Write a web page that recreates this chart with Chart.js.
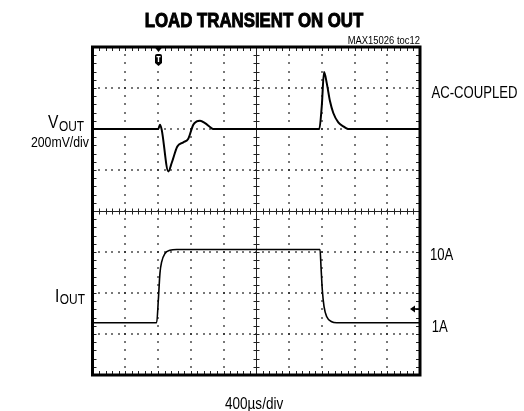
<!DOCTYPE html>
<html><head><meta charset="utf-8">
<style>html,body{margin:0;padding:0;background:#fff;}#wrap{width:524px;height:411px;position:relative;}</style>
<script src="https://cdn.jsdelivr.net/npm/chart.js@4/dist/chart.umd.min.js"></script>
</head><body><div id="wrap"><canvas id="c" width="524" height="411"></canvas></div>
<script>
// ---- data (read from the scope shot) ----
const voutTime = [0, 804, 824, 845, 926, 967, 1036, 1109, 1170, 1231, 1273, 1313, 1374, 1435, 1475, 2770, 2800, 2828, 2861, 2901, 2941, 3002, 3063, 3124, 4000];
const voutMv   = [0,   0,  21,  -3, -207, -166, -85, -65, -47,  21,  37,  40,  29,  10,   0,    0,  110,  278,  224,  135,   78,   32,   13,    0,    0];
const ioutTime = [0, 784, 804, 824, 845, 885, 947, 1028, 2779, 2791, 2807, 2828, 2861, 2922, 2983, 4000];
const ioutAmp  = [1.0, 1.0, 3.76, 7.05, 8.42, 9.44, 9.84, 9.93, 9.93, 7.81, 4.98, 2.95, 1.73, 1.12, 1.0, 1.0];
const triggerTime = 800;      // µs
const ioutRefMarker = 2.67;   // A, channel marker on right edge
// scope settings
const xDivs = 10, yDivs = 8;
const timePerDiv = 400;       // µs/div
const vPerDiv = 200;          // mV/div
const iPerDiv = 5;            // A/div
const vMin = -1200, iMin = -5.38;
const tMin = 0;

function hasFont(name){
  const c=document.createElement('canvas').getContext('2d');
  const s='MAX15026 toc12 AC-COUPLED';
  c.font='40px monospace'; const a=c.measureText(s).width;
  c.font='40px "'+name+'", monospace'; const b=c.measureText(s).width;
  return Math.abs(a-b)>0.5;
}
const NARROW = hasFont('Liberation Sans Narrow');
function txt(ctx, s, x, y, size, bold, align){
  ctx.save();
  const fam = NARROW ? '"Liberation Sans Narrow"' : '"Liberation Sans", Arial';
  ctx.font = (bold?'bold ':'') + size + 'px ' + fam + ', sans-serif';
  ctx.textBaseline = 'alphabetic';
  ctx.textAlign = align || 'left';
  ctx.fillStyle = '#000';
  ctx.translate(x, y);
  if (!NARROW) ctx.scale(0.82, 1);
  ctx.fillText(s, 0, 0);
  if (bold) { ctx.strokeStyle='#000'; ctx.lineWidth=1.0; ctx.strokeText(s,0,0); }
  ctx.restore();
}
function measure(ctx, s, size){
  ctx.save();
  const fam = NARROW ? '"Liberation Sans Narrow"' : '"Liberation Sans", Arial';
  ctx.font = size + 'px ' + fam + ', sans-serif';
  const w = ctx.measureText(s).width * (NARROW?1:0.82);
  ctx.restore(); return w;
}

const scope = {
  id: 'scope',
  beforeDatasetsDraw(chart){
    const ctx = chart.ctx, {left,right,top,bottom} = chart.chartArea;
    const xs = chart.scales.x, yv = chart.scales.yV;
    const xAt = d => xs.getPixelForValue(tMin + d*timePerDiv);
    const yAt = d => yv.getPixelForValue(vMin + d*vPerDiv);
    ctx.save();
    ctx.fillStyle = '#111';
    // dotted graticule
    for (let i=1;i<xDivs;i++){
      if (i===xDivs/2) continue;
      const x = Math.round(xAt(i));
      for (let k=1;k<yDivs*5;k++){ const y=Math.round(yAt(k/5)); ctx.fillRect(x-0.75, y-0.75, 1.5, 1.5); }
    }
    for (let j=1;j<yDivs;j++){
      if (j===yDivs/2) continue;
      const y = Math.round(yAt(j));
      for (let k=1;k<xDivs*5;k++){ const x=Math.round(xAt(k/5)); ctx.fillRect(x-0.75, y-0.75, 1.5, 1.5); }
    }
    // centre axes with ticks
    ctx.strokeStyle = '#222'; ctx.lineWidth = 1;
    const cx = Math.round(xAt(xDivs/2))+0.5, cy = Math.round(yAt(yDivs/2))+0.5;
    ctx.beginPath();
    ctx.moveTo(left, cy); ctx.lineTo(right, cy);
    ctx.moveTo(cx, top); ctx.lineTo(cx, bottom);
    for (let k=1;k<xDivs*5;k++){ const x=Math.round(xAt(k/5))+0.5; ctx.moveTo(x, cy-3); ctx.lineTo(x, cy+3); }
    for (let k=1;k<yDivs*5;k++){ const y=Math.round(yAt(k/5))+0.5; ctx.moveTo(cx-3, y); ctx.lineTo(cx+3, y); }
    // edge ticks
    for (let k=1;k<xDivs*5;k++){ const x=Math.round(xAt(k/5))+0.5; ctx.moveTo(x, top); ctx.lineTo(x, top+4); ctx.moveTo(x, bottom); ctx.lineTo(x, bottom-4); }
    for (let k=1;k<yDivs*5;k++){ const y=Math.round(yAt(k/5))+0.5; ctx.moveTo(left, y); ctx.lineTo(left+4, y); ctx.moveTo(right, y); ctx.lineTo(right-4, y); }
    ctx.stroke();
    ctx.restore();
  },
  afterDatasetsDraw(chart){
    const ctx = chart.ctx, {left,right,top,bottom} = chart.chartArea;
    const xs = chart.scales.x, yi = chart.scales.yI;
    ctx.save();
    // frame
    ctx.strokeStyle = '#000'; ctx.lineWidth = 3;
    ctx.strokeRect(left, top, right-left, bottom-top);
    // trigger marker
    const tx = Math.round(xs.getPixelForValue(triggerTime))+0.5;
    ctx.fillStyle = '#000';
    ctx.beginPath(); ctx.moveTo(tx-4, top); ctx.lineTo(tx+4, top); ctx.lineTo(tx, top+5); ctx.closePath(); ctx.fill();
    ctx.beginPath();
    ctx.moveTo(tx-3.5, top+9); ctx.quadraticCurveTo(tx-3.5, top+7, tx-1.5, top+7);
    ctx.lineTo(tx+1.5, top+7); ctx.quadraticCurveTo(tx+3.5, top+7, tx+3.5, top+9);
    ctx.lineTo(tx+3.5, top+16); ctx.lineTo(tx, top+19); ctx.lineTo(tx-3.5, top+16); ctx.closePath(); ctx.fill();
    ctx.fillStyle = '#fff';
    ctx.fillRect(tx-2, top+9, 4, 1.3); ctx.fillRect(tx-0.7, top+9, 1.4, 6);
    // channel marker on right edge
    const my = yi.getPixelForValue(ioutRefMarker);
    ctx.fillStyle = '#000';
    ctx.beginPath(); ctx.moveTo(right-10, my); ctx.lineTo(right-5, my-3.5); ctx.lineTo(right-5, my+3.5); ctx.closePath(); ctx.fill();
    ctx.fillRect(right-5, my-0.8, 4, 1.6);
    ctx.restore();

    // texts
    txt(ctx, 'LOAD TRANSIENT ON OUT', 254, 26.5, 20.5, true, 'center');
    txt(ctx, 'MAX15026 toc12', right, 43.5, 11.5, false, 'right');
    // VOUT
    txt(ctx, 'V', 48, 128, 19, false);
    txt(ctx, 'OUT', 48 + measure(ctx,'V',19) + 0.5, 130.5, 14.5, false);
    txt(ctx, '200mV/div', 89, 147, 15, false, 'right');
    txt(ctx, 'AC-COUPLED', 431.5, 98.3, 16, false);
    txt(ctx, '10A', 430, 259.5, 16, false);
    txt(ctx, 'I', 55, 301.7, 19, false);
    txt(ctx, 'OUT', 55 + measure(ctx,'I',19) + 0.5, 304, 14.5, false);
    txt(ctx, '1A', 431.7, 331.7, 16, false);
    txt(ctx, '400\u00b5s/div', 225, 408.5, 16.5, false);
  }
};

new Chart(document.getElementById('c'), {
  type: 'line',
  data: {
    datasets: [
      { label: 'VOUT', yAxisID: 'yV', data: voutTime.map((t,i)=>({x:t, y:voutMv[i]})),
        borderColor: '#000', borderWidth: 2, pointRadius: 0, cubicInterpolationMode: 'monotone', fill: false },
      { label: 'IOUT', yAxisID: 'yI', data: ioutTime.map((t,i)=>({x:t, y:ioutAmp[i]})),
        borderColor: '#000', borderWidth: 1.6, pointRadius: 0, cubicInterpolationMode: 'monotone', fill: false }
    ]
  },
  options: {
    responsive: false, animation: false, devicePixelRatio: 1,
    layout: { padding: { left: 92.5, right: 104, top: 47, bottom: 36 } },
    scales: {
      x: { type: 'linear', min: tMin, max: tMin + xDivs*timePerDiv, display: false },
      yV: { type: 'linear', min: vMin, max: vMin + yDivs*vPerDiv, display: false },
      yI: { type: 'linear', min: iMin, max: iMin + yDivs*iPerDiv, display: false }
    },
    plugins: { legend: { display: false }, tooltip: { enabled: false }, title: { display: false } }
  },
  plugins: [scope]
});
</script>
</body></html>
